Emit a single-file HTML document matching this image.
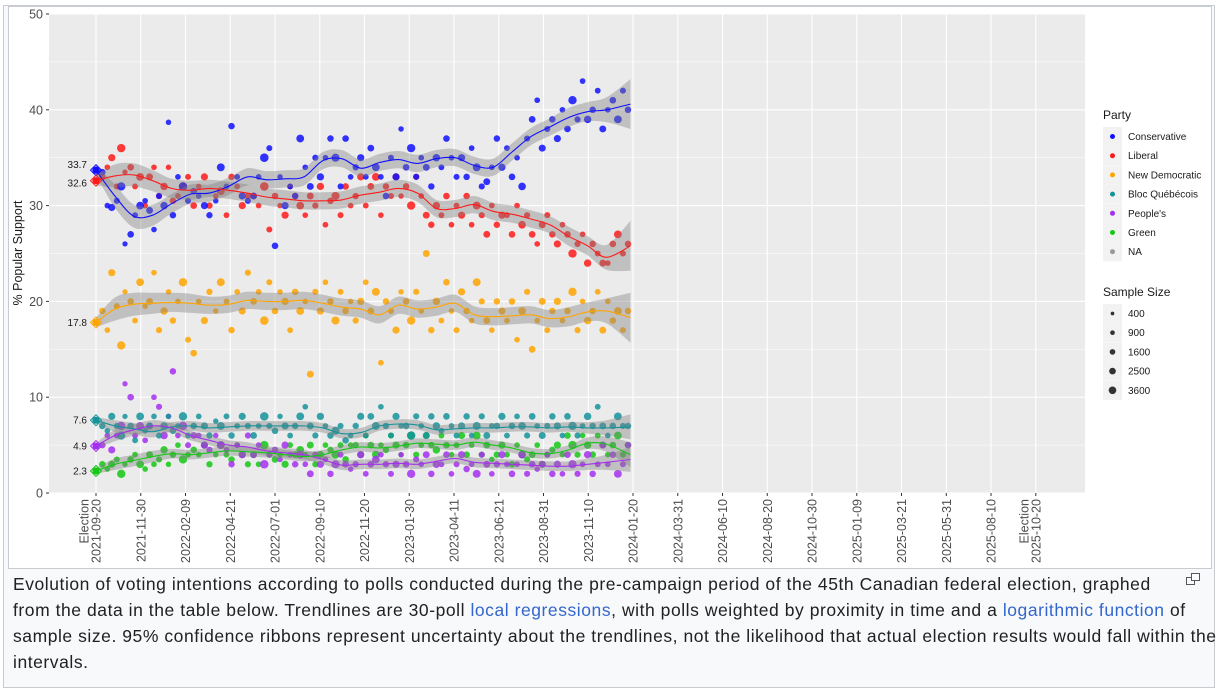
<!DOCTYPE html>
<html><head><meta charset="utf-8">
<style>
body{margin:0;width:1218px;height:692px;background:#fff;position:relative;overflow:hidden;font-family:"Liberation Sans",Arial,sans-serif}
#frame{position:absolute;left:3px;top:5px;width:1210px;height:681px;border:1px solid #c8ccd1;background:#f8f9fa}
#imgbox{position:absolute;left:8px;top:6px;width:1202px;height:561px;border:1px solid #c8ccd1;background:#fff}
#chart{position:absolute;left:0;top:0}
#caption{position:absolute;left:13px;top:571px;font-size:17.5px;letter-spacing:0.55px;line-height:26px;color:#202122;white-space:nowrap}
#caption a{color:#3366cc;text-decoration:none}
#enlarge{position:absolute;left:1186px;top:573px;width:14px;height:12px}
</style></head><body>
<div id="frame"></div>
<div id="imgbox"></div>
<svg id="chart" width="1218" height="568"></svg>
<div id="caption">Evolution of voting intentions according to polls conducted during the pre-campaign period of the 45th Canadian federal election, graphed<br>from the data in the table below. Trendlines are 30-poll <a href="#">local regressions</a>, with polls weighted by proximity in time and a <a href="#">logarithmic function</a> of<br>sample size. 95% confidence ribbons represent uncertainty about the trendlines, not the likelihood that actual election results would fall within the<br>intervals.</div>
<svg id="enlarge" viewBox="0 0 14 12"><rect x="0.5" y="4.5" width="8" height="7" fill="none" stroke="#54595d"/><rect x="5.5" y="0.5" width="8" height="7" fill="#fff" stroke="#54595d"/></svg>
<script>
const tickDates=["2021-09-20","2021-11-30","2022-02-09","2022-04-21","2022-07-01","2022-09-10","2022-11-20","2023-01-30","2023-04-11","2023-06-21","2023-08-31","2023-11-10","2024-01-20","2024-03-31","2024-06-10","2024-08-20","2024-10-30","2025-01-09","2025-03-21","2025-05-31","2025-08-10","2025-10-20"];
const yTicks=[0,10,20,30,40,50];
const partyNames=["Conservative","Liberal","New Democratic","Bloc Québécois","People's","Green","NA"];
const partyColors=["#1010ff","#ff1a1a","#ffa500","#14939b","#a52ff0","#14c814","#999999"];
const electionVals=[33.7,32.6,17.8,7.6,4.9,2.3];
const sizeLegend=[400,900,1600,2500,3600];
const knotDays=[0,30,60,90,120,150,180,210,240,270,300,330,360,390,420,450,480,510,540,570,600,630,660,690,720,750,780,810,848];
const trendCPC=[33.7,31.0,28.9,29.0,30.2,31.2,31.3,32.0,33.0,32.7,32.8,33.0,34.7,34.9,33.9,34.5,34.8,34.4,34.9,35.0,34.2,34.0,35.6,37.2,38.2,39.2,39.8,40.0,40.6];
const trendLPC=[32.6,33.1,33.2,32.6,31.8,31.6,31.8,31.6,31.3,30.9,30.7,30.5,30.5,30.6,31.1,31.4,31.8,31.3,29.7,29.7,30.1,29.4,29.1,28.6,28.0,26.8,25.8,24.6,25.8];
const trendNDP=[17.8,19.2,19.7,19.8,19.9,19.8,19.6,19.7,20.1,20.0,20.0,20.1,19.8,19.4,19.2,18.6,19.6,19.2,19.4,19.8,18.6,18.4,18.5,18.6,18.2,18.4,18.9,19.0,18.3];
const trendBQ=[7.6,7.0,6.7,6.4,6.9,7.0,6.8,6.9,7.0,7.0,7.0,7.0,6.8,6.2,6.3,7.0,7.2,7.1,6.6,6.7,6.8,6.8,6.9,6.9,6.8,6.9,6.8,6.8,6.9];
const trendPPC=[4.9,6.0,6.6,7.0,6.8,6.0,5.5,5.0,4.8,4.4,4.2,4.0,3.5,2.9,3.0,3.0,3.1,3.0,3.3,3.6,3.2,3.1,3.0,2.9,2.8,2.8,3.0,3.2,3.5];
const trendGPC=[2.3,3.0,3.4,3.8,4.1,4.0,4.2,4.4,4.3,4.2,4.0,3.8,4.0,4.5,4.8,4.7,4.9,5.2,5.1,5.0,5.3,5.0,4.7,4.2,4.1,4.5,5.2,5.1,4.0];
const ribbonBig=[0.5,1.2,1.2,1.1,1.0,1.0,0.9,0.9,0.9,0.9,0.9,0.9,0.9,0.9,0.9,0.9,0.9,0.9,0.9,0.9,0.9,0.9,0.9,0.9,0.9,1.0,1.0,1.3,2.6];
const ribbonSmall=[0.3,0.6,0.6,0.6,0.5,0.5,0.5,0.5,0.5,0.5,0.5,0.5,0.5,0.5,0.5,0.5,0.5,0.5,0.5,0.5,0.5,0.5,0.5,0.5,0.5,0.5,0.6,0.8,1.3];
const pollDays=[10,18,25,33,40,46,55,62,70,78,85,92,100,108,115,122,130,138,146,155,163,172,180,190,198,207,215,224,232,241,250,258,267,275,284,292,300,308,316,324,332,340,348,356,364,372,380,388,396,404,412,420,428,436,444,452,460,468,476,484,492,500,508,516,524,532,540,548,556,564,572,580,588,596,604,612,620,628,636,644,652,660,668,676,684,692,700,708,716,724,732,740,748,756,764,772,780,788,796,804,812,820,828,836,844];
const pollSizes=[1500,1000,2000,1200,3000,800,1600,1100,2500,1000,1800,1000,1300,2200,900,1500,1000,3000,1200,1600,1000,2000,1400,900,2600,1100,1500,1000,2000,1300,1700,1000,3200,1200,1600,900,2000,1100,1500,2500,1000,1800,1300,2100,1000,1500,2800,1200,1600,1000,1400,2000,1100,1700,2500,1000,1500,1200,2000,900,1600,3000,1300,1000,1800,1500,2200,1100,1600,1000,1200,2000,1500,1000,2600,1300,1800,1000,1500,2000,1100,1600,1000,2400,1300,1700,1000,1900,1200,1500,2000,1000,1600,3000,1300,1000,2200,1500,1100,1800,1000,1600,2500,1200,1500];
const pollCPC=[33.5,30,29.8,30.5,32,26,27,29,30,30.5,29.5,27.5,31,30,38.7,29,33,32,30.5,31.5,31,30,29,30.5,34,32,38.3,33,31,30.5,31,33,35,36,25.8,33,30,32,31,37,34,32,35,33,35,37,35,32,37,33,34,35,33,36,34,33,31,35,33,38,34,36,33,35,34,32,35,34,37,35,33,35,33,36,34,32,32.5,34,37,34,36,33,35,32,37,39,41,36,38,39,37,40,38,41,39,43,39,40,42,38,40,41,39,42,40];
const pollLPC=[33,34,35,32,36,33.5,34,32,33,30,33,34,31,32,34,30.5,31,32,33,30,32,33,30,31,31.5,29,33,32,30,31,31,30,32,27.5,31,30,29,32,31,30,29,31,30,32,28,30.5,31,29,32,30,31,33,30,32,33,29,32,31,33,31,32,30,33,31,29,28,30,29,31,28,30,29,31,28,30,29,27,30,28,29,29,27,30,28,29,27,26,28,29,27,26,28,27,25,26,27,24,26,25,24,24,26,27,25,26];
const pollNDP=[19,17,23,19.5,15.4,21,20,18,22,19.5,20,23,17,19,21,18,20,22,16,14.6,20,18,21,19,22,20,17,21,19,23,20,21,18,22,19,21,20,17,21,19,20,12.4,21,19,22,20,18,21,19,20,18,20,22,19,21,13.6,20,19,17,21,20,18,21,19,25,17,20,18,22,19,17,21,19,18,22,20,18,17,20,19,18,20,16,19,21,15,18,20,17,19,20,18,19,21,17,20,18,19,21,17,20,18,19,17,19];
const pollBQ=[7,6.5,8,7,6,8,7,5.5,8,6.5,7,8,6,7,8,6.5,7,8,6,7,8,7,6,7.5,7,8,6,7,8,7,6,7,8,7,6.5,8,7,6,7,8,9,7,6,8,7,6,6.5,7,5.5,6,7,8,6,8,7,9,7,6,8,7,7,6,8,7,6,8,7,6.5,8,7,6,7,8,6,7,8,6,7,7,8,6,7,8,7,6,8,7,6,7,8,7,6,8,7,6,7,8,7,9,7,6,7,8,7,7];
const pollPPC=[5,6,4.5,6,7,11.4,10,6,7,5.5,7,10,9,6,8,12.7,6,7,5,6,6,5,4.5,6,5,4.5,3,5,4,6,4,5,3,4,4.5,3.5,5,4,3,4,3,2,4,3,3.5,2,3,4,3,2.5,3,4,2,3,3.5,4,3,2,3,4,3,2,3.5,3,4,2,3,3,4,2,3,4,2.5,3,2,4,3,2,3,4,3,2,3,4,2,3,2.5,3,4,2,3,2,4,3,2,3,4,2,3,5,3,4,2,3,5];
const pollGPC=[3,2.5,3,3.5,2,3,3.5,4,3,2.5,4,3,3.5,4.5,3,4,5,3.5,4,4.5,4,5,3,4,5,4,3.5,5,4,3,4,3,5,4,3.5,4,3,5,4,4.5,4,5,3,4,5,4.5,4,5,3.5,5,5,4,6,5,4,5,4.5,6,5,4,5,6,4,5,6,5,4.5,6,5,4,5,6,4,5,6,4,5,3.5,4,5,4,3,5,4,3.5,4,5,3,4,4.5,5,4,6,5,4,6,5,4,6,5,4,5,6,4,5];

const NS="http://www.w3.org/2000/svg";
const svg=document.getElementById('chart');
const PL=49,PR=1085,PT=14,PB=493;
const d0=new Date("2021-09-20T00:00:00Z");
const dayOf=s=>Math.round((new Date(s+"T00:00:00Z")-d0)/86400000);
const xS=d=>96+d*0.6303;
const yS=v=>PB-v*(PB-PT)/50;
function mk(tag,attrs,parent){const e=document.createElementNS(NS,tag);for(const k in attrs)e.setAttribute(k,attrs[k]);(parent||svg).appendChild(e);return e;}
function smooth(pts){let d="M"+pts[0][0].toFixed(1)+","+pts[0][1].toFixed(1);
 for(let i=0;i<pts.length-1;i++){const p0=pts[i-1]||pts[i],p1=pts[i],p2=pts[i+1],p3=pts[i+2]||p2;
 const c1=[p1[0]+(p2[0]-p0[0])/6,p1[1]+(p2[1]-p0[1])/6],c2=[p2[0]-(p3[0]-p1[0])/6,p2[1]-(p3[1]-p1[1])/6];
 d+=" C"+c1[0].toFixed(1)+","+c1[1].toFixed(1)+" "+c2[0].toFixed(1)+","+c2[1].toFixed(1)+" "+p2[0].toFixed(1)+","+p2[1].toFixed(1);}return d;}
function smoothCont(pts){return smooth(pts).replace(/^M/,"L");}

const panel=mk('rect',{x:PL,y:PT,width:PR-PL,height:PB-PT,fill:'#ebebeb'});

for(let v=5;v<50;v+=10){const l=mk('line',{x1:PL,x2:PR,y1:yS(v),y2:yS(v),stroke:'#fff','stroke-width':0.5});
 }
yTicks.forEach(v=>{const l=mk('line',{x1:PL,x2:PR,y1:yS(v),y2:yS(v),stroke:'#fff','stroke-width':1.1});
 
 const t=mk('text',{x:PL-6,y:yS(v)+4.5,'text-anchor':'end','font-size':12.5,fill:'#4d4d4d'});t.textContent=v;
 
 const tk=mk('line',{x1:PL-3,x2:PL,y1:yS(v),y2:yS(v),stroke:'#333'});
 });
tickDates.forEach((s,i)=>{const x=xS(dayOf(s));
 const l=mk('line',{x1:x,x2:x,y1:PT,y2:PB,stroke:'#fff','stroke-width':1.1});
 
 const tk=mk('line',{x1:x,x2:x,y1:PB,y2:PB+3,stroke:'#333'});
 
 const g=mk('text',{transform:`translate(${x+4.5},${PB+6}) rotate(-90)`,'text-anchor':'end','font-size':12.5,fill:'#4d4d4d'});
 
 if(i===0||i===tickDates.length-1){const a=mk('tspan',{x:0,dy:-12},g);a.textContent="Election";const b=mk('tspan',{x:0,dy:12},g);b.textContent=s;}
 else g.textContent=s;});
const yt=mk('text',{transform:'translate(22,253) rotate(-90)','text-anchor':'middle','font-size':12.5,fill:'#1a1a1a'});
yt.textContent="% Popular Support";

const pollSeries=[pollCPC,pollLPC,pollNDP,pollBQ,pollPPC,pollGPC];
const rOf=n=>1+Math.sqrt(n)*0.058;
[5,4,3,2,1,0].forEach(p=>{pollSeries[p].forEach((v,i)=>{
 const c=mk('circle',{cx:xS(pollDays[i]),cy:yS(v),r:rOf(pollSizes[i]),fill:partyColors[p],'fill-opacity':0.85});
 });});

const trends=[trendCPC,trendLPC,trendNDP,trendBQ,trendPPC,trendGPC];
trends.forEach((tr,p)=>{const hw=p<3?ribbonBig:ribbonSmall;
 const up=knotDays.map((d,i)=>[xS(d),yS(tr[i]+hw[i])]);
 const lo=knotDays.map((d,i)=>[xS(d),yS(tr[i]-hw[i])]).reverse();
 const r=mk('path',{d:smooth(up)+" "+smoothCont(lo)+" Z",fill:'#808080','fill-opacity':0.4});
 });
trends.forEach((tr,p)=>{const pts=knotDays.map((d,i)=>[xS(d),yS(tr[i])]);
 const l=mk('path',{d:smooth(pts),fill:'none',stroke:partyColors[p],'stroke-width':1.1});
 });

electionVals.forEach((v,p)=>{const x=xS(0),y=yS(v);
 const dm=mk('path',{d:`M${x},${y-5.5} L${x+5.5},${y} L${x},${y+5.5} L${x-5.5},${y} Z`,fill:'none',stroke:partyColors[p],'stroke-width':1});
 
 const c=mk('circle',{cx:x,cy:y,r:3.6,fill:partyColors[p]});
 
 const off=(p===0?-2:p===1?6:3.5);
 const t=mk('text',{x:x-9,y:y+off,'text-anchor':'end','font-size':10,fill:'#1a1a1a'});t.textContent=v.toFixed(1);
 });

const lt=mk('text',{x:1103,y:119,'font-size':12,fill:'#1a1a1a'});lt.textContent="Party";

partyNames.forEach((n,i)=>{const y=127+i*19.2;
 const b=mk('rect',{x:1103,y:y,width:19,height:19,fill:'#f2f2f2'});
 const c=mk('circle',{cx:1112.5,cy:y+9.5,r:2.5,fill:partyColors[i]});
 const t=mk('text',{x:1128,y:y+13,'font-size':10,fill:'#1a1a1a'});t.textContent=n;});
const st=mk('text',{x:1103,y:296,'font-size':12,fill:'#1a1a1a'});st.textContent="Sample Size";

sizeLegend.forEach((n,i)=>{const y=304+i*19.2;
 const b=mk('rect',{x:1103,y:y,width:19,height:19,fill:'#f2f2f2'});
 const c=mk('circle',{cx:1112.5,cy:y+9.5,r:rOf(n)*0.85,fill:'#333'});
 const t=mk('text',{x:1128,y:y+13,'font-size':10,fill:'#1a1a1a'});t.textContent=n;});
</script>
</body></html>
